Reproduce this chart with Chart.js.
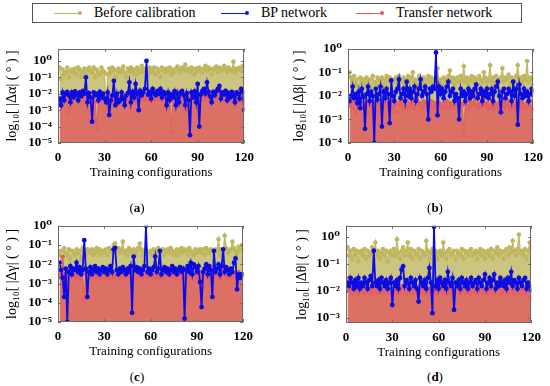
<!DOCTYPE html>
<html>
<head>
<meta charset="utf-8">
<script src="https://cdn.jsdelivr.net/npm/chart.js@4.4.0/dist/chart.umd.min.js"></script>
<style>
body{margin:0;width:550px;height:386px;position:relative;background:#fff;font-family:"Liberation Serif",serif;overflow:hidden}
canvas{position:absolute}
#legend{position:absolute;left:32px;top:3px;width:488px;height:18px;border:1px solid #555;font-size:14px;color:#000}
.item{position:absolute;top:0;line-height:18px;white-space:nowrap}
.key{display:inline-block;position:relative;width:28px;height:18px;vertical-align:top;margin-right:12px}
.key::before{content:'';position:absolute;left:0;right:2px;top:8.5px;height:1px;background:var(--c)}
.key::after{content:'';position:absolute;right:0;top:7px;width:4px;height:4px;border-radius:50%;background:var(--c)}
.panel{position:absolute;font-size:13px;transform:translateX(-50%);line-height:14px}
.panel b{font-weight:bold}
</style>
</head>
<body>
<div id="legend">
  <div class="item" style="left:21px"><span class="key" style="--c:#bdb35a"></span>Before calibration</div>
  <div class="item" style="left:188px"><span class="key" style="--c:#1010e8"></span>BP network</div>
  <div class="item" style="left:323px"><span class="key" style="--c:#e05a5a"></span>Transfer network</div>
</div>
<canvas id="ca" width="261" height="149" style="left:0;top:35px"></canvas>
<canvas id="cb" width="263" height="149" style="left:287px;top:35px"></canvas>
<canvas id="cc" width="260" height="151" style="left:0;top:212px"></canvas>
<canvas id="cd" width="258" height="152" style="left:290px;top:212px"></canvas>
<div class="panel" style="left:137px;top:201px">(<b>a</b>)</div>
<div class="panel" style="left:435px;top:201px">(<b>b</b>)</div>
<div class="panel" style="left:137px;top:370px">(<b>c</b>)</div>
<div class="panel" style="left:435px;top:370px">(<b>d</b>)</div>
<script>
const seriesNames = ['Before calibration', 'BP network', 'Transfer network'];
const xTicks = [0, 30, 60, 90, 120];

// (a) |Δα|
const beforeA = [0.4,0.08,0.3,0.15,0.2,0.4,0.1,0.25,0.3,0.2, 0.35,0.15,0.4,0.3,0.1,0.2,0.35,0.15,0.3,0.4,
  0.25,0.2,0.4,0.1,0.3,0.2,0.15,0.4,0.25,0.2, 0.001,0.15,0.35,0.2,0.4,0.3,0.1,0.25,0.35,0.2,
  0.3,0.45,0.2,0.1,0.35,0.25,0.4,0.2,0.3,0.15, 0.4,0.3,0.2,0.5,0.25,0.35,0.3,0.15,0.4,0.2,
  0.3,0.4,0.15,0.35,0.25,0.1,0.4,0.3,0.2,0.35, 0.25,0.4,0.15,0.3,0.2,0.35,0.45,0.3,0.2,0.4,
  0.3,0.6,0.25,0.35,0.2,0.4,0.3,0.15,0.35,0.25, 0.4,0.3,0.2,0.35,0.5,0.25,0.4,0.3,0.15,0.35,
  0.3,0.45,0.2,0.4,0.25,0.3,0.5,0.35,0.2,0.4, 0.3,0.25,0.9,0.2,0.35,0.3,0.4,0.25,0.5,0.45];
const bpA = [5e-3,2e-3,1.2e-2,4e-3,1e-2,1.3e-2,8e-3,3e-3,1.2e-2,6e-3, 1.4e-2,9e-3,4e-3,1.2e-2,7e-3,1.5e-2,1e-2,0.1,3e-3,1.1e-2,
  6e-3,2e-4,1.2e-2,8e-3,1e-2,4e-3,1.3e-2,6e-3,1e-2,5e-3, 3e-3,1.2e-2,5e-4,4e-3,8e-3,6e-2,2e-3,1e-2,3e-3,4e-3,
  1.2e-2,5e-3,2e-3,8e-3,1.1e-2,5e-2,3e-3,1.3e-2,6e-3,4e-2, 1e-2,1e-3,1.5e-2,8e-3,1.2e-2,2e-2,1.0,9e-3,1.3e-2,5e-3,
  2e-2,1.1e-2,8e-3,1.5e-2,1e-2,2e-2,6e-3,1.3e-2,1e-2,2e-3, 1.2e-2,4e-3,9e-3,6e-3,1.4e-2,2e-3,1e-2,3e-3,1.2e-2,1.5e-2,
  8e-3,2e-3,1.1e-2,4e-3,3e-5,1.2e-2,6e-3,1.4e-2,3e-3,4e-2, 1e-4,9e-3,1.5e-2,2e-2,1e-2,5e-2,1.3e-2,7e-3,3e-3,1.2e-2,
  8e-3,1.4e-2,2e-2,3e-2,5e-3,1.2e-2,9e-3,1.5e-2,4e-3,1.1e-2, 6e-3,1.3e-2,8e-3,3e-3,1.2e-2,1e-2,5e-3,2e-2,1.3e-2,1e-3];
const transferA = [3e-3,5e-3,6e-3,4e-3,7e-3,5e-3,8e-4,6e-3,4e-3,7e-3, 5e-3,8e-3,4e-3,6e-3,3e-3,7e-3,5e-3,4e-3,6e-3,8e-3,
  4e-3,6e-3,5e-3,3e-3,7e-5,5e-3,6e-3,4e-3,8e-3,5e-3, 6e-3,4e-3,7e-3,5e-3,3e-3,6e-3,5e-3,8e-3,4e-3,6e-3,
  5e-3,7e-3,4e-3,6e-3,5e-3,3e-3,7e-3,5e-3,1.5e-2,6e-3, 4e-3,1.5e-2,5e-3,7e-3,4e-3,6e-3,5e-3,8e-3,4e-3,6e-3,
  5e-3,7e-3,4e-3,6e-3,1.2e-2,5e-3,7e-3,4e-3,6e-3,5e-3, 3e-3,6e-3,5e-5,7e-3,5e-3,1.5e-2,4e-3,6e-3,5e-3,8e-3,
  6e-3,4e-3,1e-3,5e-3,7e-3,4e-3,6e-3,5e-3,8e-3,4e-3, 6e-3,5e-3,7e-3,4e-3,6e-3,1e-2,5e-3,7e-3,4e-3,1.5e-2,
  5e-3,6e-3,1.2e-2,2e-2,5e-3,7e-3,4e-3,6e-3,5e-3,8e-3, 4e-3,6e-3,5e-3,7e-3,4e-3,6e-3,1.5e-2,5e-3,7e-3,4e-3];

// (b) |Δβ|
const beforeB = [0.1,0.06,0.04,0.07,0.03,0.05,0.02,0.06,0.04,0.05, 0.03,0.06,0.04,0.05,0.02,0.07,0.04,0.03,0.06,0.05,
  0.04,0.06,0.03,0.05,0.07,0.04,0.06,0.002,0.05,0.04, 0.06,0.03,0.07,0.05,0.04,0.06,0.03,0.05,0.07,0.04,
  0.06,0.1,0.04,0.05,0.03,0.07,0.05,0.04,0.06,0.03, 0.05,0.07,0.04,0.06,0.03,0.05,0.06,0.15,0.04,0.05,
  0.03,0.06,0.05,0.04,0.07,0.12,0.04,0.06,0.03,0.05, 0.06,0.04,0.07,0.05,0.18,0.04,0.06,0.03,0.05,0.07,
  0.04,0.06,0.05,0.03,0.07,0.05,0.04,0.1,0.06,0.04, 0.05,0.2,0.04,0.06,0.03,0.07,0.05,0.04,0.06,0.15,
  0.04,0.06,0.05,0.08,0.03,0.06,0.05,0.04,0.07,0.2, 0.05,0.06,0.04,0.07,0.05,0.3,0.04,0.06,0.05,0.03];
const bpB = [6e-3,1e-2,2.5e-2,8e-3,1.2e-2,5e-3,1.5e-2,3e-3,2e-2,9e-3, 4e-4,1.2e-2,2.5e-2,6e-3,1.5e-2,1e-2,1e-4,2e-2,7e-3,1.2e-2,
  2.5e-2,5e-4,1.5e-2,8e-3,2e-2,1.2e-2,7e-4,4.5e-2,1e-2,6e-3, 1.5e-2,2e-2,5e-2,8e-3,1.2e-2,2e-2,6e-3,4e-2,1e-2,2e-2,
  8e-3,1.5e-2,2.5e-2,6e-3,1.2e-2,2e-2,5e-2,1e-2,1.5e-2,2.5e-2, 1.2e-2,1e-3,2e-2,1.5e-2,2.5e-2,2e-2,0.7,1.5e-3,2.5e-2,1.2e-2,
  2e-2,8e-3,1.5e-2,2.5e-2,4e-2,1e-2,1.5e-2,2e-2,6e-3,1.2e-2, 8e-3,1e-3,2e-2,1e-2,1.5e-2,6e-3,1.2e-2,2e-2,8e-3,1.5e-2,
  1e-2,2e-2,3e-2,8e-3,1.2e-2,2e-2,6e-3,1.5e-2,1e-2,2e-2, 8e-3,1.2e-2,2e-2,6e-3,1.5e-2,2.5e-2,4e-2,1e-2,2e-3,1.5e-2,
  2e-2,8e-3,1.2e-2,2e-2,1.5e-2,6e-3,4e-2,1e-2,2e-2,6e-4, 3e-2,1.2e-2,8e-3,2e-2,1e-2,1.5e-2,6e-3,1.2e-2,2e-2,1.5e-2];
const transferB = [4e-3,6e-3,3e-3,5e-3,2e-3,4e-3,6e-3,3e-3,5e-3,4e-3, 3e-3,5e-3,2e-3,4e-3,6e-3,3e-3,5e-3,4e-3,2e-3,5e-3,
  4e-3,3e-3,6e-3,4e-3,5e-3,3e-3,4e-3,6e-3,3e-3,5e-3, 4e-3,2e-3,5e-3,4e-3,6e-3,3e-3,5e-3,4e-3,3e-3,5e-3,
  4e-3,6e-3,3e-3,8e-3,2e-2,4e-3,5e-3,3e-3,6e-3,4e-3, 5e-3,3e-3,4e-3,6e-3,3e-3,5e-3,4e-3,2e-3,5e-3,4e-3,
  3e-3,5e-3,4e-3,6e-3,3e-3,5e-3,4e-3,3e-3,5e-3,4e-3, 6e-3,3e-3,5e-3,4e-3,2e-4,5e-3,4e-3,3e-3,6e-3,4e-3,
  5e-3,1.5e-2,4e-3,3e-3,5e-3,4e-3,6e-3,8e-3,4e-3,5e-3, 3e-3,4e-3,6e-3,3e-3,5e-3,4e-3,3e-3,5e-3,4e-3,6e-3,
  3e-3,5e-3,4e-3,6e-3,3e-3,5e-3,4e-3,3e-3,5e-3,4e-3, 6e-3,3e-3,5e-3,4e-3,3e-3,5e-3,4e-3,6e-3,3e-3,2.5e-3];

// (c) |Δγ|
const beforeC = [0.03,0.05,0.02,0.07,0.04,0.03,0.06,0.02,0.05,0.04, 0.03,0.06,0.04,0.05,0.02,0.07,0.04,0.03,0.06,0.05,
  0.04,0.06,0.03,0.05,0.07,0.04,0.06,0.03,0.05,0.04, 0.06,0.03,0.07,0.05,0.04,0.1,0.12,0.05,0.07,0.04,
  0.06,0.15,0.04,0.05,0.03,0.07,0.05,0.04,0.06,0.03, 0.05,0.07,0.12,0.06,0.03,0.05,0.06,0.04,0.04,0.05,
  0.03,0.06,0.05,0.04,0.07,0.05,0.04,0.06,0.03,0.05, 0.06,0.04,0.07,0.05,0.03,0.04,0.06,0.03,0.05,0.07,
  0.04,0.06,0.05,0.03,0.07,0.05,0.04,0.03,0.06,0.04, 0.05,0.06,0.04,0.06,0.03,0.07,0.05,0.04,0.06,0.05,
  0.04,0.06,0.05,0.2,0.03,0.06,0.05,0.3,0.07,0.04, 0.05,0.06,0.15,0.07,0.05,0.04,0.08,0.06,0.1,0.05];
const bpC = [1.2e-2,5e-3,2e-3,2e-4,6e-3,1e-5,4e-3,8e-3,3e-3,6e-3, 5e-3,1.2e-2,4e-3,7e-3,3e-3,5e-3,0.18,6e-3,2e-4,4e-3,
  7e-3,3e-3,5e-3,8e-3,4e-3,6e-3,3e-3,5e-3,7e-3,4e-3, 6e-3,3e-3,5e-3,8e-3,4e-3,6e-2,7e-2,5e-3,3e-3,6e-3,
  4e-3,7e-3,5e-3,3e-3,6e-3,4e-3,8e-3,3e-5,2.5e-2,5e-3, 7e-3,4e-3,6e-3,3e-3,5e-3,8e-3,1.0,4e-3,6e-3,3e-3,
  5e-3,7e-3,2.5e-2,4e-3,6e-3,5e-2,3e-3,5e-3,7e-3,4e-3, 6e-3,3e-3,5e-3,8e-3,4e-3,6e-3,3e-3,5e-3,7e-3,4e-3,
  6e-3,1.5e-5,5e-3,8e-3,4e-3,1.2e-2,3e-3,1e-2,7e-3,4e-3, 8e-3,1.2e-3,6e-5,4e-3,6e-3,1e-2,3e-3,8e-3,5e-3,2e-4,
  5e-2,4e-3,6e-3,1e-2,3e-3,8e-3,6e-2,4e-3,7e-3,5e-3, 3e-3,6e-3,4e-3,1.2e-2,2e-2,5e-4,3e-3,2e-3,3e-3,3e-3];
const transferC = [3e-3,2e-3,2.5e-2,3e-3,2e-3,4e-3,3e-3,2e-3,4e-3,3e-3, 2e-3,4e-3,3e-3,2e-3,3e-3,4e-3,1.5e-4,3e-3,2e-3,4e-3,
  3e-3,2e-3,3e-3,4e-3,2e-3,3e-3,4e-3,2e-3,3e-3,2e-3, 4e-3,3e-3,2e-3,3e-3,4e-3,2e-3,3e-3,4e-3,3e-3,2e-3,
  3e-3,4e-3,2e-3,3e-3,4e-3,3e-3,2e-3,8e-3,3e-3,4e-3, 2e-3,3e-3,4e-3,3e-3,2e-3,4e-3,3e-3,2e-3,3e-3,4e-3,
  3e-3,2e-3,4e-3,3e-3,2e-3,3e-3,4e-3,3e-3,2e-3,3e-3, 4e-3,3e-3,2e-3,3e-3,4e-3,2e-3,3e-3,4e-3,3e-3,2e-3,
  3e-3,4e-3,2e-3,3e-3,4e-3,3e-3,2e-3,4e-3,3e-3,2e-3, 3e-3,4e-3,3e-3,2e-3,4e-3,3e-3,2e-3,3e-3,4e-3,3e-3,
  2e-3,3e-3,4e-3,3e-3,2e-3,4e-3,1e-2,3e-3,2e-3,4e-3, 3e-3,2e-3,4e-3,3e-3,2e-3,3e-3,4e-3,3e-3,2e-3,3e-3];

// (d) |Δθ|
const beforeD = [0.4,0.2,0.3,0.15,0.35,0.2,0.3,0.12,0.25,0.3, 0.2,0.35,0.15,0.3,0.2,0.25,0.4,0.15,0.6,0.2,
  0.3,0.15,0.25,0.35,0.2,0.3,0.12,0.25,0.3,0.2, 0.35,0.2,0.8,0.25,0.15,0.3,0.4,0.2,0.3,0.6,
  0.2,0.35,0.15,0.3,0.25,0.2,0.35,0.15,0.3,0.25, 0.2,0.7,0.3,0.15,0.25,0.35,0.2,0.3,0.15,0.25,
  0.3,0.2,0.6,0.25,0.15,0.3,0.35,0.2,0.25,0.3, 0.15,0.3,0.25,0.2,0.35,0.15,0.3,0.25,0.2,0.3,
  0.35,0.2,0.25,0.3,0.15,0.25,0.35,0.2,0.3,0.15, 0.25,0.3,0.2,0.35,0.15,0.3,0.25,0.4,0.2,0.3,
  0.25,0.15,0.3,0.35,0.2,0.4,0.25,0.7,0.3,0.2, 0.35,1.2,0.25,0.3,0.2,0.35,0.15,0.3,0.6,0.4];
const bpD = [2e-2,1.5e-2,3e-2,2e-2,1.2e-2,2.5e-2,1.5e-2,3e-2,1.2e-2,2e-2, 1.5e-2,3e-2,2e-2,1.2e-2,2.5e-2,3.5e-2,1.5e-2,0.3,2e-2,1.5e-2,
  2.5e-2,1.2e-2,3e-2,2e-2,1.5e-2,2.5e-2,1.2e-2,2e-2,3e-2,3e-3, 2e-2,1.5e-2,2.5e-2,1.2e-2,3e-2,6e-2,8e-2,1.5e-2,2.5e-2,2e-2,
  1.2e-2,3e-2,2e-2,1.5e-2,2.5e-2,1.2e-2,4e-3,3e-2,2e-2,1.5e-2, 2.5e-2,1.2e-2,3e-2,7e-2,2e-2,1.5e-3,2.3,1.5e-2,2.5e-2,1.2e-2,
  3e-2,2e-2,1.5e-2,2.5e-2,1.2e-2,5e-2,2e-2,1.5e-2,3e-2,2e-3, 2e-2,1.5e-2,2.5e-2,1.2e-2,3e-2,2e-2,1.5e-2,2.5e-2,1.2e-2,2e-2,
  3e-2,1.5e-2,2e-2,2.5e-2,1.2e-2,3e-2,2e-2,1.5e-2,2.5e-2,4e-2, 1.2e-2,2e-2,3e-2,1.5e-2,2.5e-2,4e-2,1.2e-2,2e-2,1.5e-2,3e-2,
  2e-2,1.5e-2,2.5e-2,1.2e-2,3e-2,2e-2,5e-2,1.5e-2,2.5e-2,2e-2, 1.2e-2,3e-2,2e-2,1.5e-2,2.5e-2,3e-2,1.2e-2,2e-2,1.5e-2,1e-2];
const transferD = [1e-2,3e-2,1.2e-2,8e-3,1.5e-2,1e-2,1.2e-2,8e-3,1.5e-2,1e-2, 1.2e-2,8e-3,1.5e-2,1e-2,1.2e-2,8e-3,1.5e-2,1e-2,1.2e-2,8e-3,
  1.5e-2,1e-2,1.2e-2,8e-3,1e-2,1.5e-2,1.2e-2,8e-3,1e-2,1.2e-2, 8e-3,1.5e-2,1e-2,1.2e-2,8e-3,1.5e-2,1e-2,1.2e-2,8e-3,2.5e-2,
  1e-2,1.2e-2,8e-3,1.5e-2,1e-2,1.2e-2,8e-3,1.5e-2,1e-2,1.2e-2, 8e-3,1.5e-2,1e-2,1.2e-2,8e-3,1e-2,1.5e-2,1.2e-2,8e-3,1e-2,
  1.5e-2,1.2e-2,8e-3,1e-2,1.2e-2,8e-3,1.5e-2,1e-2,1.2e-2,8e-3, 1e-2,1.5e-2,1.2e-2,8e-3,1e-2,1.2e-2,1.5e-2,8e-3,1e-2,1.2e-2,
  8e-3,1.5e-2,1e-2,1.2e-2,8e-3,1e-2,1.5e-2,1.2e-2,8e-3,1e-2, 1.2e-2,8e-3,1.5e-2,1e-2,1.2e-2,8e-3,1e-2,1.5e-2,1.2e-2,2.5e-2,
  8e-3,1e-2,1.2e-2,1.5e-2,8e-3,1e-2,2.5e-2,1.2e-2,8e-3,1e-2, 1.5e-2,1.2e-2,8e-3,1e-2,1.2e-2,8e-3,1.5e-2,1e-2,6e-3,5e-3];

// y ticks per panel
const yTicksA = [1e-5, 1e-4, 1e-3, 1e-2, 1e-1, 1];
const yLabelsA = ['10⁻⁵', '10⁻⁴', '10⁻³', '10⁻²', '10⁻¹', '10⁰'];
const yTicksB = [1e-4, 1e-3, 1e-2, 1e-1, 1];
const yLabelsB = ['10⁻⁴', '10⁻³', '10⁻²', '10⁻¹', '10⁰'];
const yTicksC = yTicksA, yLabelsC = yLabelsA;
const yTicksD = [1e-3, 1e-2, 1e-1, 1];
const yLabelsD = ['10⁻³', '10⁻²', '10⁻¹', '10⁰'];

const FONT = '"Liberation Serif", "DejaVu Serif", serif';

const frame = {
  id: 'frame',
  afterDatasetsDraw(chart) {
    const { ctx, chartArea: a, scales: { x, y } } = chart;
    ctx.save();
    ctx.strokeStyle = '#6a6a6a';
    ctx.lineWidth = 1;
    ctx.strokeRect(Math.round(a.left) + 0.5, Math.round(a.top) + 0.5, Math.round(a.right - a.left) - 1, Math.round(a.bottom - a.top) - 1);
    ctx.beginPath();
    x.ticks.forEach(t => {
      const p = Math.round(x.getPixelForValue(t.value)) + 0.5;
      ctx.moveTo(p, a.bottom); ctx.lineTo(p, a.bottom - 3);
      ctx.moveTo(p, a.top); ctx.lineTo(p, a.top + 3);
    });
    y.ticks.forEach(t => {
      const p = Math.round(y.getPixelForValue(t.value)) + 0.5;
      ctx.moveTo(a.left, p); ctx.lineTo(a.left + 3, p);
      ctx.moveTo(a.right, p); ctx.lineTo(a.right - 3, p);
    });
    ctx.stroke();
    ctx.restore();
  }
};

function pts(vals) {
  return vals.map((v, i) => ({ x: i + 1, y: v }));
}

function makeChart(id, before, bp, transfer, yMin, yMax, yTicks, yLabels, yTitle, yWidth, pad) {
  const styles = [
    { data: before, line: '#c2b862', fill: 'rgba(190,181,92,0.78)', dot: '#c0b65e', w: 1.2, r: 2.3, order: 2 },
    { data: bp, line: '#0c0ce8', fill: false, dot: '#0c0ce0', w: 1.8, r: 2.4, order: 0 },
    { data: transfer, line: '#de6262', fill: 'rgba(222,100,96,0.88)', dot: '#e26262', w: 1.2, r: 2.2, order: 1 }
  ];
  const datasets = styles.map((s, k) => ({
    label: seriesNames[k],
    data: pts(s.data),
    borderColor: s.line,
    borderWidth: s.w,
    backgroundColor: s.fill || 'transparent',
    fill: s.fill ? 'start' : false,
    pointRadius: s.r,
    pointBorderWidth: 0,
    pointBackgroundColor: s.dot,
    tension: 0,
    order: s.order
  }));
  new Chart(document.getElementById(id), {
    type: 'line',
    data: { datasets },
    plugins: [frame],
    options: {
      responsive: false,
      animation: false,
      layout: { padding: pad },
      plugins: { legend: { display: false }, tooltip: { enabled: false } },
      scales: {
        x: {
          type: 'linear', min: 0, max: 120, offset: false,
          grid: { display: false, drawTicks: false }, border: { display: false },
          afterBuildTicks: s => { s.ticks = xTicks.map(v => ({ value: v })); },
          afterFit: s => { s.height = 41; },
          ticks: { padding: 7, color: '#000', maxRotation: 0, font: { family: FONT, size: 13, weight: 'bold' } },
          title: { display: true, text: 'Training configurations', color: '#000', padding: { top: 0, bottom: 4 }, font: { family: FONT, size: 13 } }
        },
        y: {
          type: 'logarithmic', min: yMin, max: yMax,
          grid: { display: false, drawTicks: false }, border: { display: false },
          afterBuildTicks: s => { s.ticks = yTicks.map(v => ({ value: v })); },
          afterFit: s => { s.width = yWidth; },
          ticks: { padding: 6, color: '#000', font: { family: FONT, size: 13, weight: 'bold' }, callback: (v, i) => yLabels[i] },
          title: { display: true, text: yTitle, color: '#000', padding: { top: 4, bottom: 4 }, font: { family: FONT, size: 14 } }
        }
      }
    }
  });
}

makeChart('ca', beforeA, bpA, transferA, 1e-5, 5.5, yTicksA, yLabelsA, 'log₁₀[ |Δα| ( ° ) ]', 58, { top: 12, right: 12 });
makeChart('cb', beforeB, bpB, transferB, 1e-4, 1, yTicksB, yLabelsB, 'log₁₀[ |Δβ| ( ° ) ]', 61, { top: 12.5, right: 12 });
makeChart('cc', beforeC, bpC, transferC, 1e-5, 1, yTicksC, yLabelsC, 'log₁₀[ |Δγ| ( ° ) ]', 58, { top: 12, right: 12 });
makeChart('cd', beforeD, bpD, transferD, 6.5e-4, 2.5, yTicksD, yLabelsD, 'log₁₀[ |Δθ| ( ° ) ]', 56, { top: 12, right: 12 });
</script>
</body>
</html>
